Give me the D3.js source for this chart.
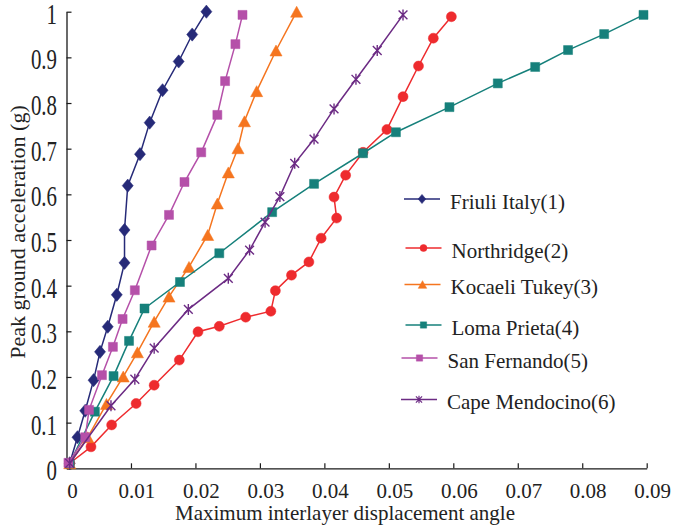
<!DOCTYPE html>
<html>
<head>
<meta charset="utf-8">
<script src="https://cdn.jsdelivr.net/npm/d3@7"></script>
<style>
  html, body { margin: 0; padding: 0; background: #fff; }
  svg text { font-family: "Liberation Serif", "Times New Roman", Tinos, "DejaVu Serif", serif; }
</style>
</head>
<body>
<div id="chart"></div>
<script>
/* ============================================================
   Peak ground acceleration vs maximum interlayer displacement angle
   one polyline per earthquake record
   ============================================================ */

// ---------- data ----------
const seriesNames = [
  'Friuli Italy(1)',
  'Northridge(2)',
  'Kocaeli Tukey(3)',
  'Loma Prieta(4)',
  'San Fernando(5)',
  'Cape Mendocino(6)'
];

// [interlayer angle, PGA (g)]
const friuli = [
  [0.0005, 0.011], [0.0017, 0.068], [0.0029, 0.126], [0.0042, 0.193],
  [0.0052, 0.255], [0.0064, 0.310], [0.0078, 0.380], [0.0090, 0.450],
  [0.0090, 0.522], [0.0095, 0.619], [0.0114, 0.688], [0.0129, 0.757],
  [0.0149, 0.828], [0.0174, 0.891], [0.0195, 0.950], [0.0217, 1.000]
];

const northridge = [
  [0.0005, 0.011], [0.0038, 0.047], [0.0070, 0.095], [0.0108, 0.142],
  [0.0136, 0.182], [0.0175, 0.237], [0.0204, 0.299], [0.0237, 0.311],
  [0.0278, 0.331], [0.0317, 0.344], [0.0324, 0.389], [0.0349, 0.423],
  [0.0376, 0.452], [0.0395, 0.504], [0.0419, 0.548], [0.0415, 0.594],
  [0.0433, 0.642], [0.0460, 0.692], [0.0497, 0.742], [0.0522, 0.814],
  [0.0546, 0.881], [0.0569, 0.942], [0.0597, 0.989]
];

const kocaeli = [
  [0.0005, 0.011], [0.0033, 0.068], [0.0062, 0.141], [0.0088, 0.201],
  [0.0110, 0.254], [0.0136, 0.321], [0.0159, 0.376], [0.0190, 0.441],
  [0.0219, 0.511], [0.0234, 0.580], [0.0251, 0.648], [0.0266, 0.701],
  [0.0276, 0.760], [0.0295, 0.826], [0.0325, 0.915], [0.0357, 1.000]
];

const lomaPrieta = [
  [0.0005, 0.011], [0.0044, 0.124], [0.0073, 0.202], [0.0097, 0.279],
  [0.0121, 0.350], [0.0176, 0.408], [0.0237, 0.471], [0.0319, 0.561],
  [0.0384, 0.623], [0.0460, 0.690], [0.0511, 0.736], [0.0594, 0.791],
  [0.0669, 0.843], [0.0727, 0.879], [0.0778, 0.916], [0.0834, 0.951],
  [0.0895, 0.993]
];

const sanFernando = [
  [0.0003, 0.012], [0.0029, 0.068], [0.0035, 0.128], [0.0055, 0.204],
  [0.0072, 0.266], [0.0087, 0.327], [0.0106, 0.390], [0.0132, 0.488],
  [0.0159, 0.555], [0.0183, 0.627], [0.0209, 0.692], [0.0234, 0.774],
  [0.0246, 0.848], [0.0262, 0.929], [0.0273, 0.993]
];

const capeMendocino = [
  [0.0005, 0.011], [0.0069, 0.137], [0.0106, 0.195], [0.0136, 0.263],
  [0.0189, 0.348], [0.0251, 0.416], [0.0284, 0.478], [0.0308, 0.539],
  [0.0331, 0.595], [0.0354, 0.668], [0.0384, 0.721], [0.0415, 0.787],
  [0.0449, 0.852], [0.0482, 0.915], [0.0522, 0.993]
];

const xTickLabels = ['0', '0.01', '0.02', '0.03', '0.04', '0.05', '0.06', '0.07', '0.08', '0.09'];
const yTickLabels = ['0', '0.1', '0.2', '0.3', '0.4', '0.5', '0.6', '0.7', '0.8', '0.9', '1'];

const xTitle = 'Maximum interlayer displacement angle';
const yTitle = 'Peak ground acceleration (g)';


// ---------- styling ----------
const FONT = '"Liberation Serif", "Times New Roman", Tinos, "DejaVu Serif", serif';

const COLORS = {
  navy   : '#262a78',
  red    : '#ee2b2e',
  orange : '#f5751f',
  teal   : '#16807b',
  pink   : '#b550a9',
  purple : '#6c2b84',
  axis   : '#1a1a1a',
  text   : '#222'
};

// custom marker shapes (d3.symbol accepts any {draw})
const diamond = {
  draw(ctx, s) {
    const w = s * 0.46, h = s * 0.55;
    ctx.moveTo(0, -h); ctx.lineTo(w, 0); ctx.lineTo(0, h); ctx.lineTo(-w, 0); ctx.closePath();
  }
};
const square = {
  draw(ctx, s) { const r = s / 2; ctx.rect(-r, -r, s, s); }
};
const circle = {
  draw(ctx, s) { const r = s / 2; ctx.moveTo(r, 0); ctx.arc(0, 0, r, 0, 2 * Math.PI); }
};
const triangle = {
  draw(ctx, s) {
    const w = s * 0.55, h = s * 0.5;
    ctx.moveTo(0, -h); ctx.lineTo(w, h); ctx.lineTo(-w, h); ctx.closePath();
  }
};
const asterisk = {
  draw(ctx, s) {
    const r = s / 2, d = r * 0.8;
    ctx.moveTo(0, -r); ctx.lineTo(0, r);
    ctx.moveTo(-d, -d); ctx.lineTo(d, d);
    ctx.moveTo(-d, d); ctx.lineTo(d, -d);
  }
};

// one entry per series: data, colour, marker, marker size (px), whether filled
const SERIES = [
  { name: seriesNames[0], data: friuli,        color: COLORS.navy,   shape: diamond,  size: 12, fill: true  },
  { name: seriesNames[1], data: northridge,    color: COLORS.red,    shape: circle,   size: 10, fill: true  },
  { name: seriesNames[2], data: kocaeli,       color: COLORS.orange, shape: triangle, size: 11, fill: true  },
  { name: seriesNames[3], data: lomaPrieta,    color: COLORS.teal,   shape: square,   size: 9,  fill: true  },
  { name: seriesNames[4], data: sanFernando,   color: COLORS.pink,   shape: square,   size: 9,  fill: true  },
  { name: seriesNames[5], data: capeMendocino, color: COLORS.purple, shape: asterisk, size: 11, fill: false }
];

// legend rows (layout only): line y, line start x
const LEGEND_ROWS = [
  { y: 199, x: 404 },
  { y: 248, x: 405.5 },
  { y: 284.5, x: 404.5 },
  { y: 325, x: 405.5 },
  { y: 358, x: 401.5 },
  { y: 399.5, x: 401 }
];


// ---------- svg + scales ----------
const W = 674, H = 525;

const svg = d3.select('#chart')
  .append('svg')
    .attr('width', W)
    .attr('height', H)
    .attr('font-family', FONT);

svg.append('rect').attr('width', W).attr('height', H).attr('fill', '#fff');

const x = d3.scaleLinear()
  .domain([0, +xTickLabels[xTickLabels.length - 1]])
  .range([66.5, 646.7]);

const y = d3.scaleLinear()
  .domain([0, +yTickLabels[yTickLabels.length - 1]])
  .range([468.3, 11.7]);


// ---------- axes (ticks point inward, labels drawn by hand) ----------
const xAxis = svg.append('g')
  .attr('transform', `translate(0,${y(0)})`)
  .call(d3.axisBottom(x)
    .tickValues(xTickLabels.map(Number))
    .tickSizeInner(-5)
    .tickSizeOuter(0)
    .tickFormat(''));

const yAxis = svg.append('g')
  .attr('transform', `translate(${x(0)},0)`)
  .call(d3.axisLeft(y)
    .tickValues(yTickLabels.map(Number))
    .tickSizeInner(-5)
    .tickSizeOuter(0)
    .tickFormat(''));

[xAxis, yAxis].forEach(a => {
  a.select('.domain').attr('stroke', COLORS.axis).attr('stroke-width', 1.3);
  a.selectAll('.tick line').attr('stroke', COLORS.axis).attr('stroke-width', 1.2);
});

// x tick labels
svg.append('g')
  .selectAll('text')
  .data(xTickLabels)
  .join('text')
    .attr('x', d => x(+d) + 6)
    .attr('y', 498)
    .attr('text-anchor', 'middle')
    .attr('font-family', FONT)
    .attr('font-size', 21)
    .attr('fill', COLORS.text)
    .text(d => d);

// y tick labels (narrow and tall in the original)
svg.append('g')
  .selectAll('text')
  .data(yTickLabels)
  .join('text')
    .attr('transform', d => `translate(57,${y(+d) + 2}) scale(0.72,1)`)
    .attr('dy', '0.34em')
    .attr('text-anchor', 'end')
    .attr('font-family', FONT)
    .attr('font-size', 29)
    .attr('fill', COLORS.text)
    .text(d => d);

// axis titles
svg.append('text')
  .attr('x', 345)
  .attr('y', 520)
  .attr('text-anchor', 'middle')
  .attr('font-family', FONT)
  .attr('font-size', 21)
  .attr('fill', COLORS.text)
  .text(xTitle);

svg.append('text')
  .attr('transform', 'translate(25,232) rotate(-90)')
  .attr('text-anchor', 'middle')
  .attr('font-family', FONT)
  .attr('font-size', 22)
  .attr('fill', COLORS.text)
  .text(yTitle);


// ---------- series ----------
const line = d3.line()
  .x(d => x(d[0]))
  .y(d => y(d[1]));

SERIES.forEach(s => {
  const g = svg.append('g');

  g.append('path')
    .datum(s.data)
    .attr('fill', 'none')
    .attr('stroke', s.color)
    .attr('stroke-width', 1.5)
    .attr('d', line);

  g.selectAll('path.mark')
    .data(s.data)
    .join('path')
      .attr('class', 'mark')
      .attr('transform', d => `translate(${x(d[0])},${y(d[1])})`)
      .attr('d', d3.symbol(s.shape, s.size))
      .attr('fill', s.fill ? s.color : 'none')
      .attr('stroke', s.color)
      .attr('stroke-width', s.fill ? 0.5 : 1.4);
});


// ---------- legend ----------
const legend = svg.append('g');

SERIES.forEach((s, i) => {
  const row = LEGEND_ROWS[i];
  const g = legend.append('g');

  g.append('line')
    .attr('x1', row.x).attr('x2', row.x + 36)
    .attr('y1', row.y).attr('y2', row.y)
    .attr('stroke', s.color)
    .attr('stroke-width', 1.5);

  g.append('path')
    .attr('transform', `translate(${row.x + 18},${row.y})`)
    .attr('d', d3.symbol(s.shape, s.size * 0.7))
    .attr('fill', s.fill ? s.color : 'none')
    .attr('stroke', s.color)
    .attr('stroke-width', s.fill ? 0.5 : 1.2);

  g.append('text')
    .attr('x', row.x + 46)
    .attr('y', row.y + 9.5)
    .attr('font-family', FONT)
    .attr('font-size', 21)
    .attr('fill', COLORS.text)
    .text(s.name);
});
</script>
</body>
</html>
